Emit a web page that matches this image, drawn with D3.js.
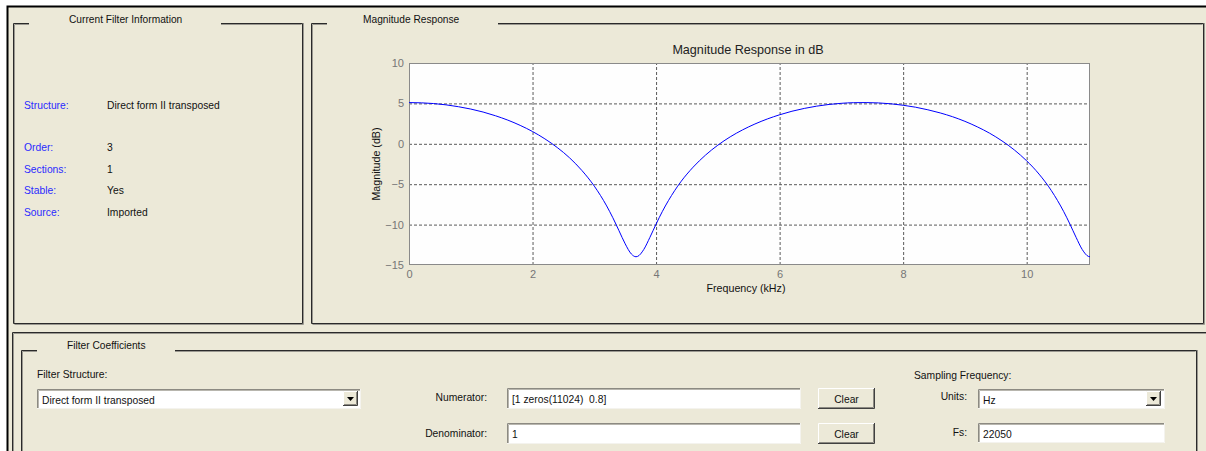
<!DOCTYPE html>
<html lang="en">
<head>
<meta charset="utf-8">
<script src="https://d3js.org/d3.v7.min.js"></script>
<style>
  body { margin:0; padding:0; background:#fff; }
  svg { display:block; font-family:"Liberation Sans", Arial, sans-serif; }
  text { white-space:pre; }
</style>
</head>
<body>
<svg id="fda" width="1206" height="451"></svg>
<script>
// magnitude response (kHz, dB)
const freqKHz = [0,0.2,0.4,0.6,0.8,1.0,1.2,1.4,1.6,1.8,2.0,2.2,2.4,2.6,2.8,3.0,3.2,3.3,3.4,3.5,3.6,3.675,3.7,3.8,3.9,4.0,4.1,4.2,4.4,4.6,4.8,5.0,5.2,5.4,5.6,5.8,6.0,6.2,6.4,6.6,6.8,7.0,7.2,7.4,7.6,7.8,8.0,8.2,8.4,8.6,8.8,9.0,9.2,9.4,9.6,9.8,10.0,10.2,10.4,10.5,10.6,10.7,10.8,10.9,11.0,11.025];
const magDB = [5.10,5.07,4.98,4.82,4.59,4.30,3.93,3.47,2.93,2.28,1.52,0.61,-0.46,-1.74,-3.31,-5.24,-7.69,-9.15,-10.76,-12.38,-13.64,-13.98,-13.94,-13.09,-11.58,-9.94,-8.40,-7.03,-4.71,-2.89,-1.40,-0.17,0.86,1.72,2.45,3.07,3.59,4.03,4.38,4.66,4.87,5.01,5.09,5.10,5.06,4.95,4.77,4.53,4.21,3.82,3.35,2.78,2.10,1.31,0.36,-0.76,-2.11,-3.75,-5.80,-7.03,-8.40,-9.94,-11.58,-13.09,-13.94,-13.98];
const xTicks = [0,2,4,6,8,10];
const yTicks = [10,5,0,-5,-10,-15];

const infoLabels = ["Structure:","Order:","Sections:","Stable:","Source:"];
const infoValues = ["Direct form II transposed","3","1","Yes","Imported"];

const svg = d3.select("#fda");
const BG = "#ECE9D8";

// window background + black outer edge
svg.append("rect").attr("x",7).attr("y",6).attr("width",1199).attr("height",445).attr("fill",BG);
svg.append("path").attr("d","M7.5,451V6.5H1206").attr("fill","none").attr("stroke","#000").attr("stroke-width",2);

function line(d, col){
  svg.append("path").attr("d",d).attr("fill","none").attr("stroke",col).attr("stroke-width",1);
}
// group box with a gap for its title
function groupBox(x, y, x2, y2, gap0, gap1, title, tx){
  line(`M${gap1},${y+.5}H${x2+.5}V${y2+.5}H${x+.5}V${y+.5}H${gap0}`, "#2a2a2a");
  line(`M${gap1},${y+1.5}H${x2-.5}M${x2+1.5},${y}V${y2+1.5}H${x+1.5}M${x+1.5},${y2}V${y+1.5}H${gap0}`, "#9a9890");
  svg.append("text").attr("x",tx).attr("y",y-4).attr("dominant-baseline","central")
    .attr("font-size","10.2px").attr("fill","#111").text(title);
}

groupBox(13, 23, 302, 323, 29, 221, "Current Filter Information", 69);
groupBox(311, 23, 1203, 323, 327, 498, "Magnitude Response", 363);

// lower panel edges
line("M12.5,451V332.5H1206", "#2a2a2a");
line("M13.5,451V333.5H1206", "#9a9890");
line("M21.5,451V350.5H37M175,350.5H1196.5V451", "#2a2a2a");
line("M22.5,451V351.5H37M175,351.5H1195.5M1197.5,350V451", "#9a9890");
svg.append("text").attr("x",67).attr("y",345).attr("dominant-baseline","central")
  .attr("font-size","10.2px").attr("fill","#111").text("Filter Coefficients");

// info panel
const infoY = [105,147,169,190,212];
svg.selectAll("text.lab").data(infoLabels).join("text").attr("class","lab")
  .attr("x",24).attr("y",(d,i)=>infoY[i]).attr("dominant-baseline","central")
  .attr("font-size","10.3px").attr("fill","#2a2aff").text(d=>d);
svg.selectAll("text.val").data(infoValues).join("text").attr("class","val")
  .attr("x",107).attr("y",(d,i)=>infoY[i]).attr("dominant-baseline","central")
  .attr("font-size","10.3px").attr("fill","#111").text(d=>d);

// ---- magnitude plot ----
const x = d3.scaleLinear().domain([0, 11.025]).range([409, 1090]);
const y = d3.scaleLinear().domain([-15, 10]).range([265, 63]);

svg.append("rect").attr("x",409).attr("y",63).attr("width",681).attr("height",202).attr("fill","#fefefe");

const gx = svg.append("g").attr("transform","translate(0,265)")
  .call(d3.axisBottom(x).tickValues(xTicks).tickSize(-202).tickPadding(5).tickFormat(d3.format("d")));
const gy = svg.append("g").attr("transform","translate(409,0)")
  .call(d3.axisLeft(y).tickValues(yTicks).tickSize(-681).tickPadding(5).tickFormat(d3.format("d")));
[gx, gy].forEach(g=>{
  g.select(".domain").remove();
  g.selectAll(".tick line").attr("stroke","#5a5a5a").attr("stroke-dasharray","3,2");
  g.selectAll(".tick text").attr("fill","#767676").attr("font-size","11px")
    .attr("font-family","'Liberation Sans', Arial, sans-serif");
});
gx.selectAll(".tick").filter(d=>d===0).select("line").remove();
gy.selectAll(".tick").filter(d=>d===10||d===-15).select("line").remove();

svg.append("rect").attr("x",409.5).attr("y",63.5).attr("width",680).attr("height",201)
  .attr("fill","none").attr("stroke","#8a8a8a");

const pts = freqKHz.map((f,i)=>[f, magDB[i]]);
svg.append("path").datum(pts)
  .attr("d", d3.line().x(d=>x(d[0])).y(d=>y(d[1])).curve(d3.curveMonotoneX))
  .attr("fill","none").attr("stroke","#0000ff").attr("stroke-width",1);

svg.append("text").attr("x",748).attr("y",50).attr("text-anchor","middle").attr("dominant-baseline","central")
  .attr("font-size","12.6px").attr("fill","#222").text("Magnitude Response in dB");
svg.append("text").attr("x",746).attr("y",288).attr("text-anchor","middle").attr("dominant-baseline","central")
  .attr("font-size","10.7px").attr("fill","#111").text("Frequency (kHz)");
svg.append("text").attr("transform","translate(376,164) rotate(-90)").attr("text-anchor","middle")
  .attr("dominant-baseline","central").attr("font-size","10.7px").attr("fill","#111").text("Magnitude (dB)");

// ---- controls ----
function label(tx, ty, s, anchor){
  svg.append("text").attr("x",tx).attr("y",ty).attr("text-anchor",anchor||"start")
    .attr("dominant-baseline","central").attr("font-size","10.3px").attr("fill","#111").text(s);
}
function editBox(x0, y0, w, h, s){
  svg.append("rect").attr("x",x0).attr("y",y0).attr("width",w).attr("height",h).attr("fill","#fff");
  line(`M${x0+.5},${y0+h}V${y0+.5}H${x0+w}`, "#8c8a82");
  line(`M${x0+1.5},${y0+h-1}V${y0+1.5}H${x0+w-1}`, "#b8b6ae");
  line(`M${x0},${y0+h-.5}H${x0+w-.5}V${y0}`, "#f4f3ee");
  label(x0+5, y0+h/2+1, s);
}
function arrowBtn(x0, y0){
  svg.append("rect").attr("x",x0).attr("y",y0).attr("width",15).attr("height",15).attr("fill",BG);
  line(`M${x0+.5},${y0+15}V${y0+.5}H${x0+15}`, "#fff");
  line(`M${x0},${y0+14.5}H${x0+14.5}V${y0}`, "#404040");
  line(`M${x0+1},${y0+13.5}H${x0+13.5}V${y0+1}`, "#8c8a82");
  svg.append("path").attr("d",`M${x0+4},${y0+6}h7l-3.5,4z`).attr("fill","#000");
}
function button(x0, y0, w, h, s){
  svg.append("rect").attr("x",x0).attr("y",y0).attr("width",w).attr("height",h).attr("fill",BG);
  line(`M${x0+.5},${y0+h}V${y0+.5}H${x0+w}`, "#fff");
  line(`M${x0},${y0+h-.5}H${x0+w-.5}V${y0}`, "#404040");
  line(`M${x0+1},${y0+h-1.5}H${x0+w-1.5}V${y0+1}`, "#8c8a82");
  svg.append("text").attr("x",x0+w/2).attr("y",y0+h/2+1).attr("text-anchor","middle")
    .attr("dominant-baseline","central").attr("font-size","10.3px").attr("fill","#111").text(s);
}

label(37, 374, "Filter Structure:");
editBox(37, 389, 324, 20, "Direct form II transposed");
arrowBtn(343, 391);

label(487, 397, "Numerator:", "end");
editBox(507, 388, 294, 21, "[1 zeros(11024)  0.8]");
button(818, 388, 57, 21, "Clear");

label(487, 433, "Denominator:", "end");
editBox(507, 423, 294, 21, "1");
button(818, 423, 57, 21, "Clear");

label(914, 375, "Sampling Frequency:");
label(967, 396, "Units:", "end");
editBox(978, 389, 187, 20, "Hz");
arrowBtn(1146, 391);
label(967, 432, "Fs:", "end");
editBox(978, 423, 187, 20, "22050");
</script>
</body>
</html>
